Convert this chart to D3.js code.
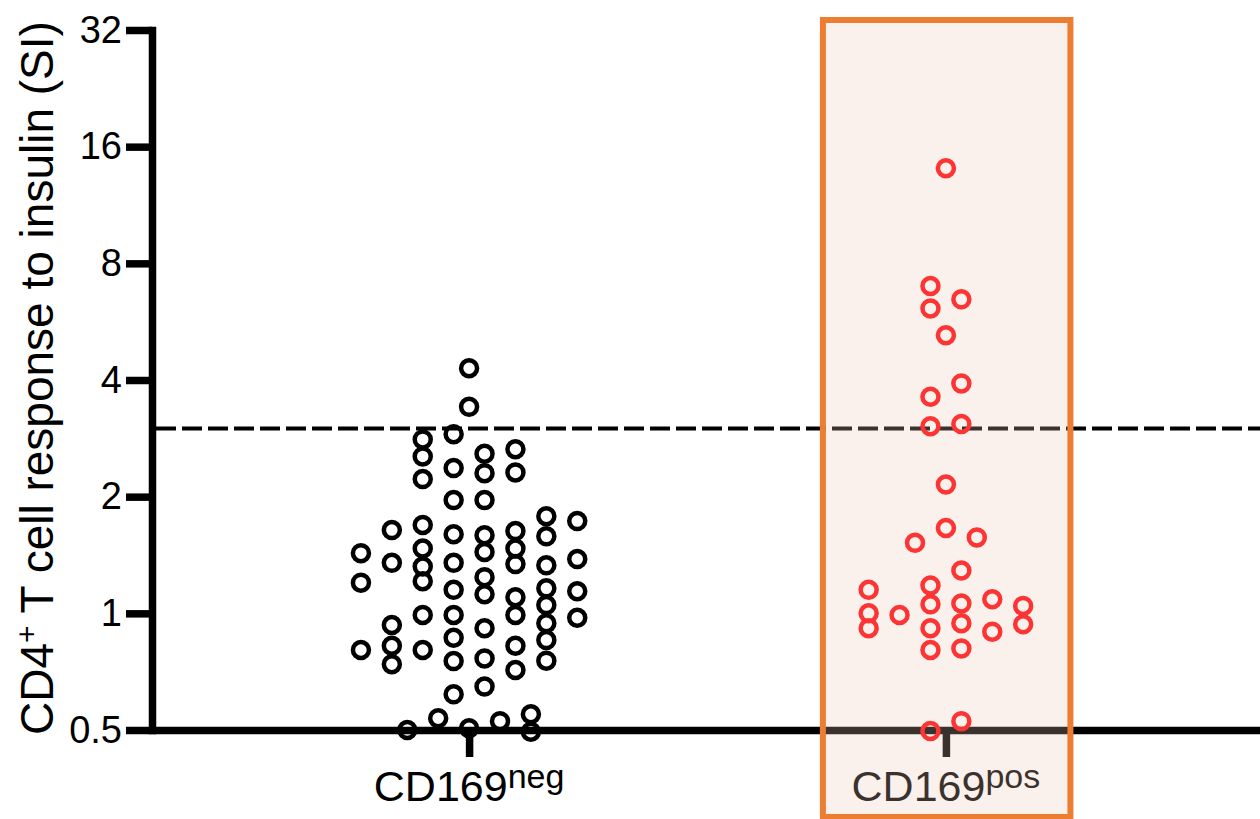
<!DOCTYPE html>
<html>
<head>
<meta charset="utf-8">
<script src="https://cdn.jsdelivr.net/npm/d3@7"></script>
<style>
  body { margin: 0; background: #fff; }
  text { font-family: "Liberation Sans", Arial, sans-serif; }
</style>
</head>
<body>
<div id="dotPlot"></div>
<script>

var groups = ['CD169neg', 'CD169pos'];
var groupLabels = [['CD169', 'neg'], ['CD169', 'pos']];
var yTicks = [0.5, 1, 2, 4, 8, 16, 32];
var cutoff = 3;

// SI values, CD169neg
var negValues = [4.29, 3.41, 2.81, 2.90, 2.54, 2.58, 2.65, 2.37, 2.30, 2.31, 2.22, 1.96, 1.96, 1.78, 1.73,
    1.64, 1.69, 1.60, 1.59, 1.63, 1.58, 1.43, 1.47, 1.44, 1.47, 1.35, 1.32, 1.35, 1.34, 1.33, 1.38,
    1.20, 1.21, 1.15, 1.24, 1.12, 1.16, 1.14, 1.10, 1.05, 0.99, 0.99, 0.99, 0.974, 0.933, 0.943,
    0.865, 0.915, 0.853, 0.804, 0.825, 0.804, 0.825, 0.739, 0.753, 0.765, 0.755, 0.714, 0.618, 0.647,
    0.536, 0.549, 0.527, 0.5, 0.505, 0.495];
// scatter lane of each point (half steps from the group centre)
var negLanes = [0, 0, -3, -1, -3, 1, 3, -1, 1, 3, -3, -1, 1, 5, 7,
    -5, -3, -1, 1, 3, 5, -7, -3, 1, 3, -5, -3, -1, 3, 5, 7,
    -7, -3, -1, 1, 1, 5, 7, 3, 5, -3, -1, 3, 7, -5, 5,
    -1, 1, 5, -7, -5, -3, 3, -5, -1, 1, 5, 3, -1, 1,
    -2, 4, 2, -4, 0, 4];

// SI values, CD169pos
var posValues = [14.07, 6.99, 6.46, 6.12, 5.22, 3.92, 3.62, 3.04, 3.08, 2.15, 1.66, 1.52, 1.57, 1.29,
    1.15, 1.18, 1.00, 0.99, 1.055, 1.06, 1.087, 1.045, 0.915, 0.915, 0.943, 0.897, 0.937,
    0.804, 0.812, 0.497, 0.527];
var posLanes = [0, -1, 1, -1, 0, 1, -1, -1, 1, 0, 0, -2, 2, 1,
    -5, -1, -5, -3, -1, 1, 3, 5, -5, -1, 1, 3, 5,
    -1, 1, -1, 1];

var width = 1260, height = 819;
var chartC = { x0: 152, x1: 1263, y0: 30, y1: 730 };

var svg = d3.select('#dotPlot').append('svg')
    .attr('width', width)
    .attr('height', height);

var yScale = d3.scaleLog().base(2)
    .domain([0.5, 32])
    .range([chartC.y1, chartC.y0]);

var xScale = d3.scalePoint()
    .domain(groups)
    .range([chartC.x0, chartC.x1])
    .padding(0.665);

var laneScale = d3.scaleLinear()
    .domain([-1, 1])
    .range([-15.45, 15.45]);

// y axis
var yAxis = svg.append('g')
    .attr('transform', `translate(${chartC.x0},0)`)
    .call(d3.axisLeft(yScale).tickValues(yTicks).tickFormat(d => d).tickSize(26).tickSizeOuter(0).tickPadding(4));
yAxis.select('.domain').attr('stroke', '#000').attr('stroke-width', 7.5).attr('stroke-linecap', 'square');
yAxis.selectAll('.tick line').attr('stroke', '#000').attr('stroke-width', 7.5);
yAxis.selectAll('.tick text')
    .attr('fill', '#000')
    .style('font-size', '38px')
    .style('font-family', '"Liberation Sans", Arial, sans-serif');

// x axis
var xAxis = svg.append('g')
    .attr('transform', `translate(0,${chartC.y1})`)
    .call(d3.axisBottom(xScale).tickFormat('').tickSize(27).tickSizeOuter(0));
xAxis.select('.domain').attr('stroke', '#000').attr('stroke-width', 7.5);
xAxis.selectAll('.tick line').attr('stroke', '#000').attr('stroke-width', 7.5);

var xLab = svg.append('g').selectAll('text')
    .data(groups)
    .enter()
    .append('text')
    .attr('x', d => xScale(d))
    .attr('y', 801)
    .attr('text-anchor', 'middle')
    .style('font-size', '43px')
    .attr('fill', '#000');
xLab.append('tspan').text((d, i) => groupLabels[i][0]);
xLab.append('tspan')
    .attr('dy', -13)
    .style('font-size', '34px')
    .text((d, i) => groupLabels[i][1]);

// y title
svg.append('text')
    .attr('transform', `translate(53,378) rotate(-90)`)
    .attr('text-anchor', 'middle')
    .style('font-size', '46px')
    .attr('fill', '#000')
    .html('CD4<tspan baseline-shift="super" style="font-size:30px">+</tspan> T cell response to insulin (SI)');

// positivity threshold
svg.append('line')
    .attr('x1', chartC.x0 + 4)
    .attr('x2', width)
    .attr('y1', yScale(cutoff))
    .attr('y2', yScale(cutoff))
    .attr('stroke', '#000')
    .attr('stroke-width', 4)
    .attr('stroke-dasharray', '20,6');

var dotR = 8;

svg.append('g').selectAll('circle')
    .data(negValues)
    .enter()
    .append('circle')
    .attr('cx', (d, i) => xScale('CD169neg') + laneScale(negLanes[i]))
    .attr('cy', d => yScale(d))
    .attr('r', dotR)
    .attr('fill', 'none')
    .attr('stroke', '#000')
    .attr('stroke-width', 4.5);

// highlight box over CD169pos
var boxW = 247.5;
svg.append('rect')
    .attr('x', xScale('CD169pos') - 123)
    .attr('y', 20)
    .attr('width', boxW)
    .attr('height', 797)
    .attr('fill', 'rgb(240,200,180)')
    .attr('fill-opacity', 0.25)
    .attr('stroke', '#ed7d31')
    .attr('stroke-width', 6);

svg.append('g').selectAll('circle')
    .data(posValues)
    .enter()
    .append('circle')
    .attr('cx', (d, i) => xScale('CD169pos') + laneScale(posLanes[i]))
    .attr('cy', d => yScale(d))
    .attr('r', dotR)
    .attr('fill', 'none')
    .attr('stroke', '#fc3434')
    .attr('stroke-width', 4.5);

</script>
</body>
</html>
